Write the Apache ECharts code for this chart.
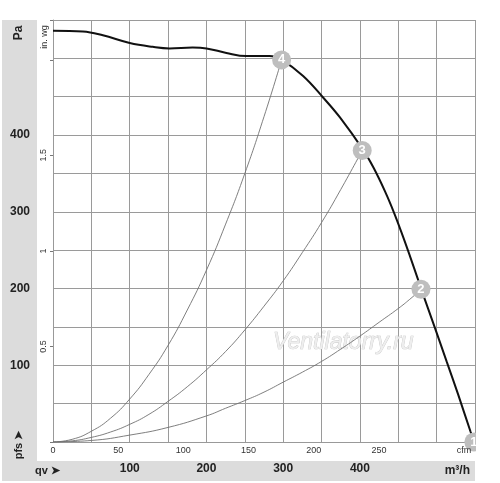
<!DOCTYPE html>
<html>
<head>
<meta charset="utf-8">
<script src="https://cdn.jsdelivr.net/npm/echarts@6/dist/echarts.min.js"></script>
<style>
html, body { margin: 0; padding: 0; background: #fff; }
#chart { width: 500px; height: 483px; }
</style>
</head>
<body>
<div id="chart"></div>
<script>
(function () {

	// fan curve (qv in m³/h, pfs in Pa)
	var fanFlow = [0, 39, 65, 100, 130, 152, 182, 200, 226, 252, 282, 298, 326, 352, 374, 404, 418, 433, 444, 455, 465, 476, 480, 498, 513, 528, 544, 549];
	var fanPa = [536, 535, 530, 520, 515, 513, 514, 513, 507, 503, 503, 498, 477, 449, 423, 381, 357, 326, 300, 271, 243, 211, 199, 148, 105, 62, 14, 0];

	// system curves through the operating points 4, 3, 2 (read every half grid column)
	var sys4Flow = [0, 25, 50, 75, 100, 125, 150, 175, 200, 225, 250, 275, 298];
	var sys4Pa = [0, 3.5, 14, 31, 56, 88, 126, 172, 224, 284, 350, 424, 498];
	var sys3Flow = [0, 25, 50, 75, 100, 125, 150, 175, 200, 225, 250, 275, 300, 325, 350, 375, 403];
	var sys3Pa = [0, 1.5, 6, 13, 23, 36, 53, 72, 94, 118, 146, 177, 210, 247, 286, 329, 380];
	var sys2Flow = [0, 50, 100, 150, 200, 225, 250, 275, 300, 325, 350, 375, 400, 425, 450, 465, 480];
	var sys2Pa = [0, 2, 9, 19, 34, 44, 54, 65, 78, 91, 105, 121, 138, 156, 174, 186, 199];

	// operating points
	var pointNames = ['4', '3', '2', '1'];
	var pointFlow = [298, 403, 479.6, 548.5];
	var pointPa = [498, 380, 199, 0];

	// tick labels
	var qvTicks = [100, 200, 300, 400];
	var paTicks = [100, 200, 300, 400];
	var cfmTicks = [0, 50, 100, 150, 200, 250];
	var inwgTicks = [0.5, 1, 1.5];

	var CFM = 1.699;   // m³/h per cfm
	var INWG = 249.09; // Pa per in. wg
	var FONT = '"Liberation Sans", Arial, sans-serif';

	function pairs(xs, ys) {
		var out = [];
		for (var i = 0; i < xs.length; i++) out.push([xs[i], ys[i]]);
		return out;
	}

	var points = [];
	for (var i = 0; i < pointNames.length; i++) {
		points.push({ name: pointNames[i], value: [pointFlow[i], pointPa[i]] });
	}

	var thin = { color: '#707070', width: 0.9 };

	var option = {
		backgroundColor: '#fff',
		animation: false,
		grid: { left: 53, right: 25, top: 20, bottom: 41 },
		xAxis: [
			{
				type: 'value', min: 0, max: 550, interval: 50,
				axisLine: { lineStyle: { color: '#999' } },
				axisTick: { show: false },
				splitLine: { lineStyle: { color: '#9a9a9a', width: 1 } },
				axisLabel: {
					margin: 21, fontSize: 12, fontWeight: 'bold', color: '#222', fontFamily: FONT,
					formatter: function (v) { return qvTicks.indexOf(v) >= 0 ? String(v) : ''; }
				}
			},
			{
				type: 'value', min: 0, max: 550 / CFM, interval: 50,
				position: 'bottom',
				axisLine: { show: false },
				axisTick: { show: false },
				splitLine: { show: false },
				axisLabel: {
					margin: 4, fontSize: 9, color: '#333', fontFamily: FONT, showMaxLabel: false,
					formatter: function (v) { return cfmTicks.indexOf(v) >= 0 ? String(v) : ''; }
				}
			}
		],
		yAxis: [
			{
				type: 'value', min: 0, max: 550, interval: 50,
				axisLine: { show: true, lineStyle: { color: '#999' } },
				axisTick: { show: false },
				splitLine: { lineStyle: { color: '#9a9a9a', width: 1 } },
				axisLabel: {
					margin: 23, fontSize: 12, fontWeight: 'bold', color: '#222', fontFamily: FONT,
					formatter: function (v) { return paTicks.indexOf(v) >= 0 ? String(v) : ''; }
				}
			},
			{
				type: 'value', min: 0, max: 550 / INWG, interval: 0.5,
				position: 'left', offset: 3,
				axisLine: { show: false },
				axisTick: { show: true, length: 3, lineStyle: { color: '#777' },
					interval: function (idx, v) { return inwgTicks.indexOf(v) >= 0; } },
				splitLine: { show: false },
				axisLabel: {
					margin: 2, fontSize: 9, color: '#333', fontFamily: FONT, rotate: 90,
					formatter: function (v) { return inwgTicks.indexOf(v) >= 0 ? String(v) : ''; }
				}
			}
		],
		series: [
			{ type: 'line', data: pairs(sys4Flow, sys4Pa), smooth: 0.5, symbol: 'none', lineStyle: thin, z: 3 },
			{ type: 'line', data: pairs(sys3Flow, sys3Pa), smooth: 0.5, symbol: 'none', lineStyle: thin, z: 3 },
			{ type: 'line', data: pairs(sys2Flow, sys2Pa), smooth: 0.5, symbol: 'none', lineStyle: thin, z: 3 },
			{
				type: 'line', data: pairs(fanFlow, fanPa), smooth: 0.4, symbol: 'none',
				lineStyle: { color: '#111', width: 2 }, z: 4
			},
			{
				type: 'scatter', data: points, symbolSize: 19, clip: false,
				itemStyle: { color: '#bebebe', opacity: 1 },
				label: { show: true, position: 'inside', formatter: '{b}', color: '#ffffff',
					fontWeight: 'bold', fontSize: 13, fontFamily: FONT },
				z: 5
			}
		],
		graphic: [
			{ type: 'rect', z: -10, shape: { x: 2, y: 20, width: 35, height: 461 }, style: { fill: '#dcdcdc' } },
			{ type: 'rect', z: -10, shape: { x: 2, y: 461, width: 473, height: 20 }, style: { fill: '#dcdcdc' } },
			{ type: 'rect', z: 100, shape: { x: 476, y: 0, width: 24, height: 483 }, style: { fill: '#fff' } },
			{ type: 'text', z: 1, x: 273, y: 343,
				style: { text: 'Ventilatorry.ru', font: 'italic 23px ' + FONT, fill: '#eeeeee',
					stroke: '#c4c4c4', lineWidth: 0.7, textVerticalAlign: 'middle' } },
			{ type: 'text', z: 10, x: 19, y: 33, rotation: Math.PI / 2,
				style: { text: 'Pa', font: 'bold 12px ' + FONT, fill: '#222', textAlign: 'center', textVerticalAlign: 'middle' } },
			{ type: 'text', z: 10, x: 19, y: 445, rotation: Math.PI / 2,
				style: { text: 'pfs ➤', font: 'bold 11px ' + FONT, fill: '#222', textAlign: 'center', textVerticalAlign: 'middle' } },
			{ type: 'text', z: 10, x: 45, y: 37, rotation: Math.PI / 2,
				style: { text: 'in. wg', font: '9px ' + FONT, fill: '#333', textAlign: 'center', textVerticalAlign: 'middle' } },
			{ type: 'text', z: 10, x: 35, y: 471,
				style: { text: 'qv ➤', font: 'bold 11px ' + FONT, fill: '#222', textVerticalAlign: 'middle' } },
			{ type: 'text', z: 10, x: 470, y: 471,
				style: { text: 'm³/h', font: 'bold 12px ' + FONT, fill: '#222', textAlign: 'right', textVerticalAlign: 'middle' } },
			{ type: 'text', z: 10, x: 464, y: 451,
				style: { text: 'cfm', font: '9px ' + FONT, fill: '#333', textAlign: 'center', textVerticalAlign: 'middle' } }
		]
	};

	var chart = echarts.init(document.getElementById('chart'));
	chart.setOption(option);

})();
</script>
</body>
</html>
